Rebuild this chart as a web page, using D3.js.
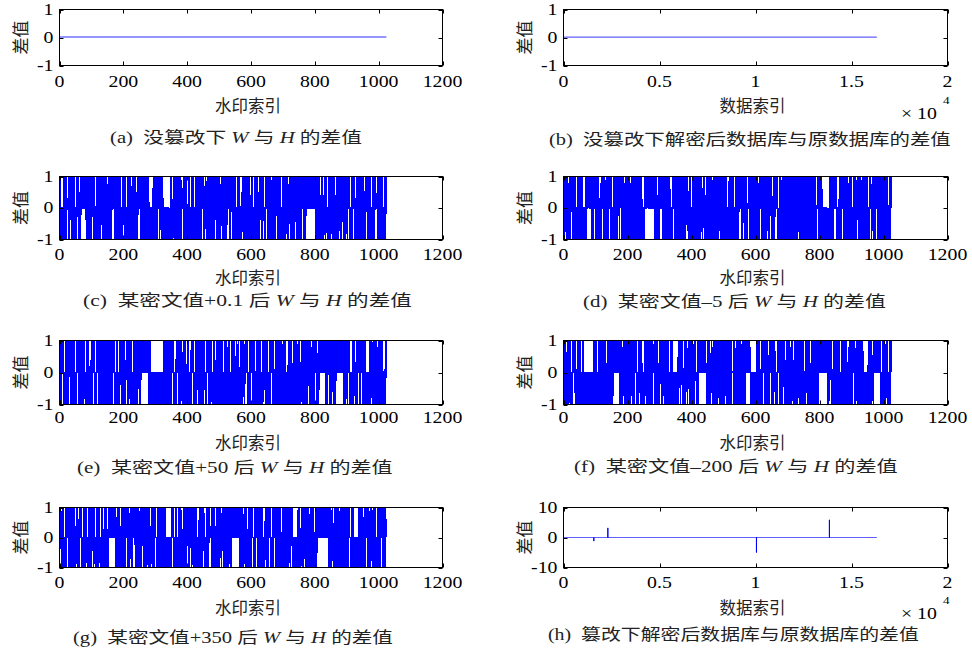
<!DOCTYPE html>
<html lang="zh">
<head>
<meta charset="UTF-8">
<title>篡改检测差值</title>
<script src="https://d3js.org/d3.v7.min.js"></script>
<style>
  body { margin: 0; background: #fff; }
  svg text { white-space: pre; }
  .num { font-family: "Liberation Serif", "Times New Roman", serif; font-size: 16.5px; fill: #000; }
  .cjk { font-family: "Noto Sans CJK SC", sans-serif; font-size: 16.5px; fill: #222; }
  .cap { font-family: "Liberation Serif", "Noto Sans CJK SC", serif; font-size: 16px; fill: #222; }
</style>
</head>
<body>
<svg id="chart" width="972" height="651"></svg>
<script>
// ---- data ----
const wmTicks = [0, 200, 400, 600, 800, 1000, 1200];
const dbTicks = [0, 5000, 10000, 15000, 20000];
const dbTickLabels = ["0", "0.5", "1", "1.5", "2"];
const unitTicks = [-1, 0, 1];
const tenTicks = [-10, 0, 10];

const wmLength = 1024;    // 水印长度
const dbLength = 16320;   // 数据库记录数

// (h) 篡改位置与差值
const tamperIndex = [1580, 2310, 10050, 13850];
const tamperDiff = [-1.2, 3.2, -5.0, 5.9];

// W - H per watermark bit, written as digit+1 ('0' = -1, '1' = 0, '2' = 1)
const diffC = `
20211110 11012120 02112011 11120201 21120011 10211021 01102121 12021110
10122121 12112121 11201110 02110121 21001211 20121101 10121021 12101120
01211102 10110212 20121011 01211021 02012111 12121010 21011012 10112021
01101221 12010211 11102021 20112011 11021201 02101211 10120211 21121001
11210201 10121021 10211021 01110101 10011201 02112011 02012111 20121101
20210101 10101101 01011010 01021201 11012120 11102021 12021110 20121011
11120201 21001211 10112021 10110212 20211110 11021201 02110121 10120211
21120011 12101120 21011012 02112011 20112011 11210201 12010211 01211102
01211021 01102121 21121001 12121010 10211021 01101221 20121101 11012120
10121021 02101211 20211110 20121011 11102021 12021110 02012111 21001211
10110212 11120201 11021201 10112021 02110121 12101120 21120011 10120211
12010211 21011012 11210201 20112011 02112011 01211102 01211021 21121001
21012211 21212112 11221211 21121212 11021012 10121021 11012120 01101221
20121101 10120211 20211110 21001211 10110212 12021110 02101211 20121011
02112011 12121010 11102021 21120011 02110121 12010211 12101120 21011012
11210201 20112011 10112021 02012111 11120201 01211102 21121001 10211021`;

const diffD = `
01102121 02012111 02112011 21121001 20121101 11102021 12101120 20211110
11012022 12112121 21121122 01211021 11210201 11021201 10110212 21120011
21011012 21001211 12010211 11012120 10120211 01211102 12121010 12021110
20112011 02110121 10112021 10121021 10211021 02101211 20121011 01101221
12112121 21121121 12211212 11120201 20211110 02012111 21121001 12101120
11210201 21120011 10110212 11021201 02112011 20121101 12010211 01211021
12121010 12021110 11102021 21001211 01102121 10120211 11012120 21011012
01211102 20112011 10121021 02110121 02101211 10211021 10112021 20121011
01101221 02112011 20211110 12010211 02012111 21121001 21120011 20121101
11120201 12101120 11210201 01211021 10110212 11102021 11021201 12021110
21001211 21011012 01102121 12121010 10121021 11012120 02110121 10120211
10211021 10112021 01211102 02101211 20112011 20121011 12010211 02112011
20211110 20121101 21120011 11210201 10210120 11010110 01011010 10101012
12101120 02012111 21121001 10110212 01101221 11120201 01211021 11102021
12021110 11021201 21001211 10121021 21011012 10211021 10120211 01102121
11012120 12010211 12121010 02110121 02101211 01211102 02112011 10112021`;

const diffE = `
12010211 12121010 10211021 21001211 20112011 02112011 10110212 11210201
20121011 02101211 10112021 20211110 10121021 21121001 01102121 12101120
11012120 01211021 11102021 02012111 02110121 21120011 11021201 01101221
10120211 20121101 11120201 01211102 21011012 12021110 12010211 20112011
12121121 21211212 12112101 20120110 10101101 01011010 10110101 01011001
01101201 10211021 21001211 02112011 12121010 10110212 11210201 02101211
10121021 20211110 21121001 10112021 21120011 01211021 12101120 02110121
02012111 01102121 11102021 20121101 10120211 11012120 11021201 12010211
01101221 20121011 12021110 11120201 20112011 01211102 21011012 10121021
21001211 21121001 10211021 12121010 20211110 02101211 02112011 10110212
11210201 21120011 02012111 12101120 10112021 02110121 01211021 01102121
20121101 11102021 10120211 11012120 12010211 11021201 01101221 12021110
20112011 01211102 21011012 10121021 11120201 01201112 12112121 21121121
20121011 21121001 21001211 10211021 01112121 12112121 21121221 10211201
02112011 12121010 10110212 20211110 02101211 11210201 21120011 02012111
01011010 11021012 12101120 10112021 02110121 01211021 20121101 11102021`;

const diffF = `
11021201 10121021 21120011 01101221 11210201 11012120 12121010 10120211
01010110 10101101 01011010 10110120 12121021 10110212 20112011 21001211
20211110 20121011 02112011 10211212 12112121 21121120 12010211 01211021
12021110 21011012 01211102 10211021 21121001 02012111 20121101 11102021
12101120 02110121 10112021 11120201 02101211 01102121 10121021 11012120
11210201 10110212 02112011 11010110 10101120 21120011 12121010 10120211
21001211 12010211 20121011 20211110 01211021 21121212 11212112 21121101
10211021 01101221 11021201 01211102 20121101 21011012 12021110 21121001
20112011 02012111 11102021 10121021 11012120 12101120 02110121 02112121
21121211 01010110 10110101 10211020 02112011 10112021 11120201 10120211
01102121 20121101 21121001 10110212 21120011 12010211 20211110 01211021
01211102 12121010 11210201 02101211 20121011 21001211 01101221 10211021
21011012 12101120 11021201 02012111 12112121 21121121 12211212 02110121
11120201 10121021 12021110 20112011 10112021 11012120 02112011 11102021
10120211 21120011 01211021 12010211 10210121 01011010 10110101 21201102
20211110 21121121 12112121 21211201 10110212 20121101 12121010 01102121`;

const diffG = `
21121001 02112011 01211021 11210201 12101120 20112011 11012120 21011012
21120011 11021201 20121101 10112021 10110212 12021110 10120211 02012111
10121021 01101221 20211110 21212112 12112121 21121210 01102121 20121011
12010211 02110121 11120201 21001211 02101211 12121010 10211021 11102021
01211102 10120211 02112011 21011012 11210201 20211110 10121021 01211021
20210121 02101101 01011010 10110102 21121001 11012120 10112021 12021110
11021201 20121011 12101120 21120011 12010211 20121101 10110212 20112011
12121010 01102121 02012111 11120201 02101211 01101221 02110121 21001211
10211021 11102021 01211102 02112121 12112121 21121212 12110201 02112011
01211021 21011012 10121021 20211110 10120211 11210201 12101120 20121011
11012120 12010211 21120011 10112021 21121001 12021110 20112011 10211021
10110212 02101211 21001211 21101101 01011010 10121201 01101221 02012111
20121101 02112011 11021201 12121010 10121021 21121212 11221211 21121212
12112121 12011201 02110121 11102021 01102121 01211102 11120201 01211021
11210201 20211110 11021012 01011010 10110101 12021012 12010211 10120211
21120011 21011012 12101120 20112011 11012120 02101211 12121010 21001211`;

const captions = {
  a: "(a)  没篡改下 W 与 H 的差值",
  b: "(b)  没篡改下解密后数据库与原数据库的差值",
  c: "(c)  某密文值+0.1 后 W 与 H 的差值",
  d: "(d)  某密文值–5 后 W 与 H 的差值",
  e: "(e)  某密文值+50 后 W 与 H 的差值",
  f: "(f)  某密文值–200 后 W 与 H 的差值",
  g: "(g)  某密文值+350 后 W 与 H 的差值",
  h: "(h)  篡改下解密后数据库与原数据库的差值"
};

// ---- series ----
function decode(str) {
  return str.replace(/\s/g, "").split("").map((c, i) => ({ x: i + 1, y: +c - 1 }));
}
const zeros = n => Array.from({ length: n }, (_, i) => ({ x: i + 1, y: 0 }));
const seriesH = zeros(dbLength);
tamperIndex.forEach((idx, k) => { seriesH[idx - 1].y = tamperDiff[k]; });

// ---- layout ----
const cols = [[59.5, 442.5], [563.5, 947.5]];
const rows = [
  { y0: 9.5, y1: 65.5, tick: 16, lab: 39 },
  { y0: 176.5, y1: 239.5, tick: 15.2, lab: 37.5 },
  { y0: 340.5, y1: 404.5, tick: 13.5, lab: 37.5 },
  { y0: 507.5, y1: 567.5, tick: 15.5, lab: 39.5 }
];
// caption centre x, centre y, width
const capPos = {
  a: [236, 138, 252], b: [750, 139.5, 402],
  c: [247.5, 300.5, 329], d: [734.5, 300.5, 303],
  e: [235, 467, 316], f: [736, 466.5, 324],
  g: [233, 637.5, 320], h: [733.5, 635, 371]
};

const panels = [
  { id: "a", col: 0, row: 0, kind: "wm", data: zeros(wmLength), dense: false },
  { id: "b", col: 1, row: 0, kind: "db", data: zeros(dbLength), dense: false },
  { id: "c", col: 0, row: 1, kind: "wm", data: decode(diffC), dense: true },
  { id: "d", col: 1, row: 1, kind: "wm", data: decode(diffD), dense: true },
  { id: "e", col: 0, row: 2, kind: "wm", data: decode(diffE), dense: true },
  { id: "f", col: 1, row: 2, kind: "wm", data: decode(diffF), dense: true },
  { id: "g", col: 0, row: 3, kind: "wm", data: decode(diffG), dense: true },
  { id: "h", col: 1, row: 3, kind: "tamper", data: seriesH, dense: false }
];

const svg = d3.select("#chart");
const KX = 1.2; // horizontal stretch of the printed figure
const tickLen = 4;

function fitText(sel, cx, cy, width) {
  const w = sel.node().getComputedTextLength();
  sel.attr("transform", `translate(${cx - width / 2},${cy}) scale(${width / w},1)`);
}

panels.forEach(p => {
  const [x0, x1] = cols[p.col];
  const r = rows[p.row];
  const isDb = p.kind !== "wm";
  const x = d3.scaleLinear().domain(isDb ? [0, 20000] : [0, 1200]).range([x0, x1]);
  const y = d3.scaleLinear().domain(p.kind === "tamper" ? [-10, 10] : [-1, 1]).range([r.y1, r.y0]);
  const xt = isDb ? dbTicks : wmTicks;
  const xl = isDb ? dbTickLabels : wmTicks.map(String);
  const yt = p.kind === "tamper" ? tenTicks : unitTicks;
  const g = svg.append("g");

  // data line
  const flat = p.id === "a" || p.id === "b";
  g.append("path")
    .datum(p.data)
    .attr("fill", "none")
    .attr("stroke", "#0000ff")
    .attr("stroke-width", p.dense ? 1.4 : 1)
    .attr("shape-rendering", p.dense ? "crispEdges" : null)
    .attr("transform", flat ? "translate(0,-0.5)" : null)
    .attr("d", d3.line().x(d => x(d.x)).y(d => y(d.y)));

  // box
  g.append("rect")
    .attr("x", x0).attr("y", r.y0)
    .attr("width", x1 - x0).attr("height", r.y1 - r.y0)
    .attr("fill", "none").attr("stroke", "#000").attr("stroke-width", 1);

  // ticks (inside)
  xt.forEach(t => {
    const px = Math.round(x(t)) + 0.5;
    g.append("line").attr("x1", px).attr("x2", px).attr("y1", r.y1).attr("y2", r.y1 - tickLen).attr("stroke", "#000");
    g.append("line").attr("x1", px).attr("x2", px).attr("y1", r.y0).attr("y2", r.y0 + tickLen).attr("stroke", "#000");
  });
  yt.forEach(t => {
    const py = Math.round(y(t)) + 0.5;
    g.append("line").attr("x1", x0).attr("x2", x0 + tickLen).attr("y1", py).attr("y2", py).attr("stroke", "#000");
    g.append("line").attr("x1", x1).attr("x2", x1 - tickLen).attr("y1", py).attr("y2", py).attr("stroke", "#000");
  });

  // tick labels
  xt.forEach((t, i) => {
    g.append("text").attr("class", "num")
      .attr("text-anchor", "middle").attr("dominant-baseline", "central")
      .attr("transform", `translate(${x(t)},${r.y1 + r.tick}) scale(${KX},1)`)
      .text(xl[i]);
  });
  yt.forEach(t => {
    g.append("text").attr("class", "num")
      .attr("text-anchor", "end").attr("dominant-baseline", "central")
      .attr("transform", `translate(${x0 - 6},${y(t)}) scale(${KX},1)`)
      .text(String(t));
  });

  // axis labels
  g.append("text").attr("class", "cjk")
    .attr("text-anchor", "middle").attr("dominant-baseline", "central")
    .attr("transform", `translate(${(x0 + x1) / 2 - 3},${r.y1 + r.lab})`)
    .text(isDb ? "数据索引" : "水印索引");
  g.append("text").attr("class", "cjk")
    .attr("text-anchor", "middle").attr("dominant-baseline", "central")
    .attr("transform", `translate(${x0 - 40.5},${(r.y0 + r.y1) / 2}) rotate(-90)`)
    .style("font-size", "17px")
    .text("差值");

  // x10^4 exponent for database index axes
  if (isDb) {
    g.append("text").attr("class", "num")
      .attr("dominant-baseline", "central")
      .attr("transform", `translate(${x1 - 46.5},${r.y1 + (p.row === 0 ? 48.5 : 46.5)}) scale(${KX},1)`)
      .text("× 10");
    g.append("text").attr("class", "num")
      .style("font-size", "11px")
      .attr("dominant-baseline", "central")
      .attr("transform", `translate(${x1 - 4.5},${r.y1 + (p.row === 0 ? 34.5 : 32.5)}) scale(${KX},1)`)
      .text("4");
  }

  // caption with italic W / H
  const [cx, cy, cw] = capPos[p.id];
  const cap = svg.append("text").attr("class", "cap").attr("dominant-baseline", "central");
  captions[p.id].split(/(W|H)/).forEach(part => {
    if (!part) return;
    const ts = cap.append("tspan").text(part);
    if (part === "W" || part === "H") ts.style("font-style", "italic");
  });
  fitText(cap, cx, cy, cw);
});
</script>
</body>
</html>
